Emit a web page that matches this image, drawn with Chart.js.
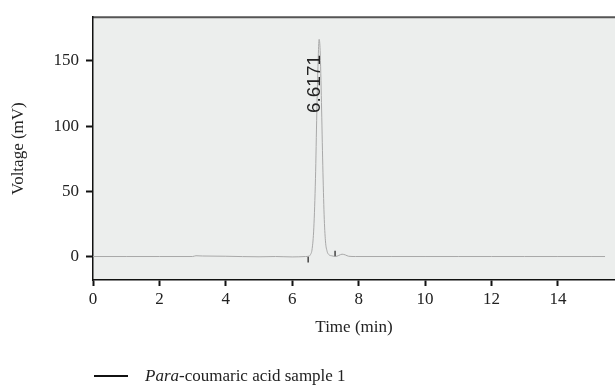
<!DOCTYPE html>
<html>
<head>
<meta charset="utf-8">
<script src="https://cdn.jsdelivr.net/npm/chart.js@4/dist/chart.umd.min.js"></script>
<style>
  html, body { margin: 0; padding: 0; background: #ffffff; }
  #wrap { position: relative; width: 615px; height: 385px; }
  #c { position: absolute; left: 0; top: 0; }
  #legend { position: absolute; left: 94px; top: 365px; height: 22px; display: flex; align-items: center;
            font-family: "Liberation Serif", "DejaVu Serif", serif; font-size: 17px; color: #222; }
  #legend .swatch { width: 34px; height: 0; border-top: 2px solid #111; margin-right: 17px; }
</style>
</head>
<body>
<div id="wrap">
  <canvas id="c" width="615" height="385"></canvas>
  <div id="legend"><span class="swatch"></span><span><i>Para</i>-coumaric acid sample 1</span></div>
</div>
<script>
// ---- data ----
const timeMin = [0, 1, 2, 3.0, 3.1, 3.3, 4, 5, 5.5, 6, 6.4, 6.5, 6.55, 6.6, 6.65, 6.7, 6.74, 6.78, 6.81, 6.84, 6.88, 6.92, 6.96, 7.0, 7.05, 7.1, 7.2, 7.3, 7.4, 7.5, 7.6, 7.7, 7.9, 9, 10, 11, 12, 13, 14, 15, 15.42];
const voltageMv = [0, 0, 0, 0, 0.6, 0.4, 0.2, -0.2, 0, -0.3, 0, 0.3, 1.5, 6, 22, 60, 110, 150, 166.5, 158, 118, 70, 32, 12, 4, 1.5, 0.5, 0, 0.8, 1.8, 1.2, 0.2, 0, 0, 0, 0, 0, 0, 0, 0, 0];
const peakStartMarker = { time: [6.48, 6.48], volt: [0, -4.5] };
const peakEndMarker = { time: [7.29, 7.29], volt: [0, 4.5] };
const peakLabel = { time: 6.81, volt: 110, text: "6.6171" };
const xTickValues = [0, 2, 4, 6, 8, 10, 12, 14];
const yTickValues = [0, 50, 100, 150];
const seriesName = "Para-coumaric acid sample 1";

const toPts = (xs, ys) => xs.map((x, i) => ({ x: x, y: ys[i] }));

const serif = "'Liberation Serif', 'DejaVu Serif', serif";

const bgPlugin = {
  id: 'bg',
  beforeDraw(chart) {
    const { ctx, chartArea: a } = chart;
    ctx.save();
    ctx.fillStyle = '#eceeed';
    ctx.fillRect(a.left, a.top, a.right - a.left, a.bottom - a.top);
    ctx.strokeStyle = '#555555';
    ctx.lineWidth = 2;
    ctx.beginPath();
    ctx.moveTo(a.left, a.top);
    ctx.lineTo(a.right, a.top);
    ctx.stroke();
    ctx.restore();
  },
  afterDatasetsDraw(chart) {
    const { ctx, scales } = chart;
    const px = scales.x.getPixelForValue(peakLabel.time) + 1;
    const py = scales.y.getPixelForValue(peakLabel.volt);
    ctx.save();
    ctx.translate(px, py);
    ctx.rotate(-Math.PI / 2);
    ctx.font = "19px 'Liberation Sans', Arial, sans-serif";
    ctx.fillStyle = '#222';
    ctx.textAlign = 'left';
    ctx.textBaseline = 'alphabetic';
    ctx.fillText(peakLabel.text, 0, 0);
    ctx.restore();
  }
};

new Chart(document.getElementById('c'), {
  type: 'line',
  data: {
    datasets: [
      {
        label: seriesName,
        data: toPts(timeMin, voltageMv),
        borderColor: '#a8a8a8',
        borderWidth: 1,
        pointRadius: 0,
        cubicInterpolationMode: 'monotone',
        fill: false
      },
      {
        label: 'start',
        data: toPts(peakStartMarker.time, peakStartMarker.volt),
        borderColor: '#444',
        borderWidth: 1.5,
        pointRadius: 0
      },
      {
        label: 'end',
        data: toPts(peakEndMarker.time, peakEndMarker.volt),
        borderColor: '#444',
        borderWidth: 1.5,
        pointRadius: 0
      }
    ]
  },
  options: {
    responsive: false,
    animation: false,
    layout: { padding: { left: 0, right: 0, top: 15, bottom: 47 } },
    plugins: { legend: { display: false }, tooltip: { enabled: false } },
    scales: {
      x: {
        type: 'linear',
        min: 0,
        max: 15.72,
        afterBuildTicks(s) { s.ticks = xTickValues.map(v => ({ value: v })); },
        afterFit(s) { s.height = 58; },
        grid: { drawOnChartArea: false, drawTicks: true, tickLength: 6, tickColor: '#111', tickWidth: 2 },
        border: { display: true, color: '#111', width: 1.5 },
        ticks: { color: '#222', font: { family: serif, size: 17 }, padding: 3, maxRotation: 0 },
        title: { display: true, text: 'Time (min)', color: '#222', font: { family: serif, size: 17 }, padding: { top: 0, bottom: 0 } }
      },
      y: {
        type: 'linear',
        min: -18,
        max: 183.5,
        afterBuildTicks(s) { s.ticks = yTickValues.map(v => ({ value: v })); },
        afterFit(s) { s.width = 93; },
        grid: { drawOnChartArea: false, drawTicks: true, tickLength: 7, tickColor: '#111', tickWidth: 2 },
        border: { display: true, color: '#111', width: 1.5 },
        ticks: { color: '#222', font: { family: serif, size: 17 }, padding: 7 },
        title: { display: true, text: 'Voltage (mV)', color: '#222', font: { family: serif, size: 17 }, padding: { top: 8, bottom: 0 } }
      }
    }
  },
  plugins: [bgPlugin]
});
</script>
</body>
</html>
